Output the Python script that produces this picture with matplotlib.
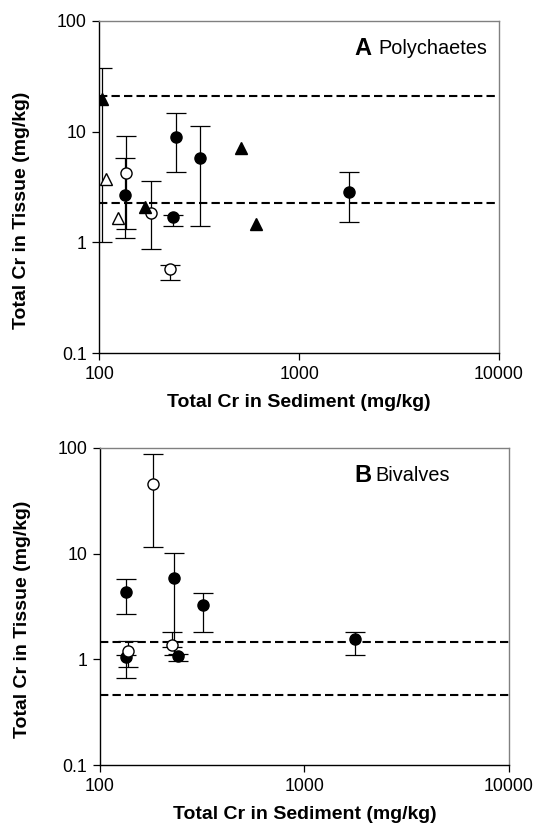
import matplotlib
matplotlib.use("Agg")
import matplotlib.pyplot as plt
import numpy as np

plt.rcParams['font.family'] = ['Liberation Sans', 'DejaVu Sans']

# ---- Panel A: Polychaetes ----
a_fc_x = [135, 243, 234, 319, 1774]          # filled circles
a_fc_y = [2.7, 8.9, 1.70, 5.8, 2.87]
a_fc_hi = [5.8, 14.8, 1.75, 11.3, 4.33]
a_fc_lo = [1.10, 4.35, 1.41, 1.41, 1.52]

a_oc_x = [136, 181, 226]                      # open circles
a_oc_y = [4.2, 1.83, 0.58]
a_oc_hi = [9.1, 3.57, 0.63]
a_oc_lo = [1.32, 0.87, 0.46]

a_ft_x = [103, 169, 509, 608]                 # filled triangles
a_ft_y = [19.5, 2.08, 7.07, 1.47]
a_ft_hi = [37.7, None, None, None]
a_ft_lo = [1.0, None, None, None]

a_ot_x = [108, 124]                           # open triangles
a_ot_y = [3.7, 1.65]

a_lines = [20.9, 2.25]

# ---- Panel B: Bivalves ----
b_fc_x = [134, 134, 232, 240, 318, 1766]
b_fc_y = [4.31, 1.05, 5.9, 1.08, 3.25, 1.56]
b_fc_hi = [5.79, 1.10, 10.2, 1.12, 4.25, 1.83]
b_fc_lo = [2.69, 0.67, 1.10, 0.975, 1.83, 1.10]

b_oc_x = [183, 137, 225]
b_oc_y = [45.7, 1.20, 1.36]
b_oc_hi = [87.8, 1.49, 1.83]
b_oc_lo = [11.5, 0.84, 1.30]

b_lines = [1.45, 0.46]

xticks = [100, 1000, 10000]
yticks = [0.1, 1, 10, 100]
xtick_labels = ['100', '1000', '10000']
ytick_labels = ['0.1', '1', '10', '100']


def errbar(ax, x, y, hi, lo, **kw):
    keep = [i for i in range(len(x)) if hi[i] is not None]
    xs = np.array([x[i] for i in keep])
    ys = np.array([y[i] for i in keep])
    err = [ys - np.array([lo[i] for i in keep]), np.array([hi[i] for i in keep]) - ys]
    ax.errorbar(xs, ys, yerr=err, fmt='none', ecolor='black', elinewidth=0.9,
                capsize=7.5, capthick=0.9, zorder=2)
    ax.plot(x, y, linestyle='none', zorder=3, **kw)


def style_axes(ax, label, name, text_y, label_x, name_x, ylab_x, ylab_y):
    ax.set_xscale('log')
    ax.set_yscale('log')
    ax.set_xlim(100, 10000)
    ax.set_ylim(0.1, 100)
    ax.set_xticks(xticks)
    ax.set_xticklabels(xtick_labels)
    ax.set_yticks(yticks)
    ax.set_yticklabels(ytick_labels)
    ax.minorticks_off()
    ax.tick_params(direction='out', length=5, width=0.9, labelsize=12.8, pad=4)
    for s in ['left', 'bottom']:
        ax.spines[s].set_color('black')
        ax.spines[s].set_linewidth(1.0)
    for s in ['top', 'right']:
        ax.spines[s].set_color('#808080')
        ax.spines[s].set_linewidth(1.0)
    ax.set_xlabel('Total Cr in Sediment (mg/kg)', fontsize=14, fontweight='bold', labelpad=8)
    ax.set_ylabel('Total Cr in Tissue (mg/kg)', fontsize=14, fontweight='bold')
    ax.yaxis.set_label_coords(ylab_x, ylab_y)
    ax.text(name_x, text_y, name, transform=ax.transAxes, ha='right', va='center', fontsize=14.3)
    ax.text(label_x, text_y, label, transform=ax.transAxes,
            ha='right', va='center', fontsize=17, fontweight='bold')


fig = plt.figure(figsize=(5.34, 8.26), dpi=100)
axA = fig.add_axes([0.186, 0.5723, 0.7485, 0.4027])
axB = fig.add_axes([0.1867, 0.0735, 0.7665, 0.3845])

mk = dict(markersize=8, markeredgecolor='black', markeredgewidth=1.0)
dash = dict(color='black', linestyle=(0, (4, 2)), linewidth=1.5, zorder=1)

for yl in a_lines:
    axA.axhline(yl, **dash)
errbar(axA, a_fc_x, a_fc_y, a_fc_hi, a_fc_lo, marker='o', markerfacecolor='black', **mk)
errbar(axA, a_oc_x, a_oc_y, a_oc_hi, a_oc_lo, marker='o', markerfacecolor='white', **mk)
errbar(axA, a_ft_x, a_ft_y, a_ft_hi, a_ft_lo, marker='^', markerfacecolor='black', **mk)
axA.plot(a_ot_x, a_ot_y, linestyle='none', marker='^', markerfacecolor='white', zorder=3, **mk)
style_axes(axA, 'A', 'Polychaetes', 0.915, 0.68, 0.97, -0.173, 0.43)

for yl in b_lines:
    axB.axhline(yl, **dash)
errbar(axB, b_fc_x, b_fc_y, b_fc_hi, b_fc_lo, marker='o', markerfacecolor='black', **mk)
errbar(axB, b_oc_x, b_oc_y, b_oc_hi, b_oc_lo, marker='o', markerfacecolor='white', **mk)
style_axes(axB, 'B', 'Bivalves', 0.914, 0.663, 0.856, -0.168, 0.46)

fig.savefig('out.png', dpi=100)
